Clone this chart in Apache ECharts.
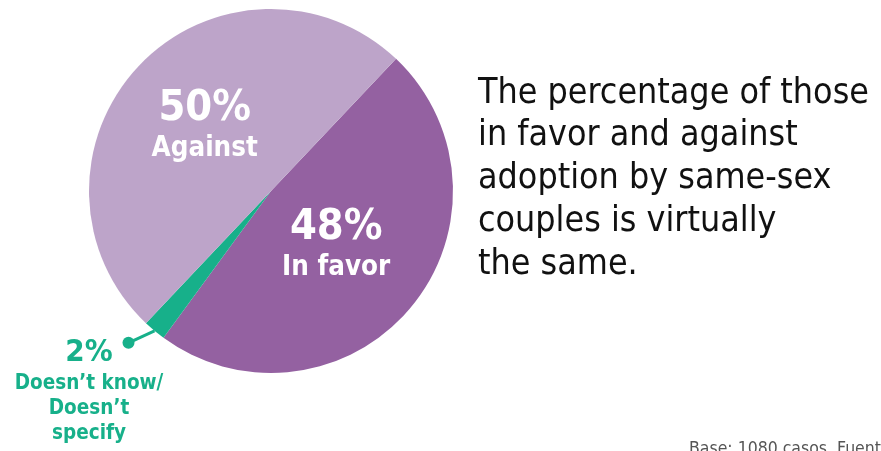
<!DOCTYPE html>
<html>
<head>
<meta charset="utf-8">
<script src="https://cdn.jsdelivr.net/npm/echarts@6/dist/echarts.min.js"></script>
<style>
  html, body { margin: 0; padding: 0; background: #fff; }
  #chart { width: 881px; height: 451px; }
</style>
</head>
<body>
<div id="chart"></div>
<script>
// Survey answers on adoption by same-sex couples (percent)
const categories = ['In favor', "Doesn\u2019t know/\nDoesn\u2019t\nspecify", 'Against'];
const values = [48, 2, 50];
const sliceColors = ['#9461a1', '#17b08a', '#bda4c9'];

const headline = [
  'The percentage of those',
  'in favor and against',
  'adoption by same-sex',
  'couples is virtually',
  'the same.'
];
const footnote = 'Base: 1080 casos. Fuente: encuesta propia';

const FONT = '"DejaVu Sans Condensed", "DejaVu Sans", sans-serif';
const CENTER = [271, 191];
const RADIUS = 182;
const START_ANGLE = 46.6;

// Mid-angle of the small slice, used to hang its callout off the rim
const total = values.reduce((a, b) => a + b, 0);
const midAngle = START_ANGLE - (values[0] + values[1] / 2) / total * 360;
const rad = midAngle * Math.PI / 180;
const rimPoint = [CENTER[0] + RADIUS * Math.cos(rad), CENTER[1] - RADIUS * Math.sin(rad)];
const dotPoint = [rimPoint[0] - 26, rimPoint[1] + 12];

const chart = echarts.init(document.getElementById('chart'), null, { renderer: 'canvas' });

const data = categories.map((name, i) => {
  const item = { name, value: values[i], itemStyle: { color: sliceColors[i] } };
  if (i === 1) {
    item.label = {
      show: true,
      position: 'outside',
      overflow: 'none',
      width: 200,
      formatter: '{p|{c}%}\n{t|{b}}',
      rich: {
        p: { fontFamily: FONT, fontWeight: 'bold', fontSize: 31, lineHeight: 37, color: '#17b08a', align: 'center' },
        t: { fontFamily: FONT, fontWeight: 'bold', fontSize: 20.5, lineHeight: 25, color: '#17b08a', align: 'center' }
      }
    };
    item.labelLine = { show: true, lineStyle: { color: '#17b08a', width: 3 } };
  }
  return item;
});

chart.setOption({
  backgroundColor: '#ffffff',
  animation: false,
  title: [
    {
      text: headline.join('\n'),
      left: 478,
      top: 72,
      padding: 0,
      textStyle: { fontFamily: FONT, fontWeight: 'normal', fontSize: 35.5, lineHeight: 42.75, color: '#111111' }
    },
    {
      text: footnote,
      left: 689,
      top: 439,
      padding: 0,
      textStyle: { fontFamily: FONT, fontWeight: 'normal', fontSize: 17.5, lineHeight: 20, color: '#555555' }
    }
  ],
  graphic: [
    {
      type: 'circle',
      shape: { cx: dotPoint[0], cy: dotPoint[1], r: 6 },
      style: { fill: '#17b08a' },
      z: 100
    }
  ],
  series: [
    {
      type: 'pie',
      center: CENTER,
      radius: [0, RADIUS],
      startAngle: START_ANGLE,
      clockwise: true,
      silent: true,
      label: {
        show: true,
        position: 'inside',
        formatter: '{p|{c}%}\n{t|{b}}',
        rich: {
          p: { fontFamily: FONT, fontWeight: 'bold', fontSize: 43, lineHeight: 44, color: '#ffffff', align: 'center' },
          t: { fontFamily: FONT, fontWeight: 'bold', fontSize: 27.5, lineHeight: 36, color: '#ffffff', align: 'center' }
        }
      },
      labelLine: { show: false },
      labelLayout: function (params) {
        if (params.dataIndex === 0) {
          return { dx: -7, dy: -5 };
        }
        if (params.dataIndex === 2) {
          return { dx: 2, dy: 0 };
        }
        return {
          x: 89,
          y: 334,
          align: 'center',
          verticalAlign: 'top',
          labelLinePoints: [rimPoint, dotPoint, dotPoint]
        };
      },
      data: data
    }
  ]
});
</script>
</body>
</html>
